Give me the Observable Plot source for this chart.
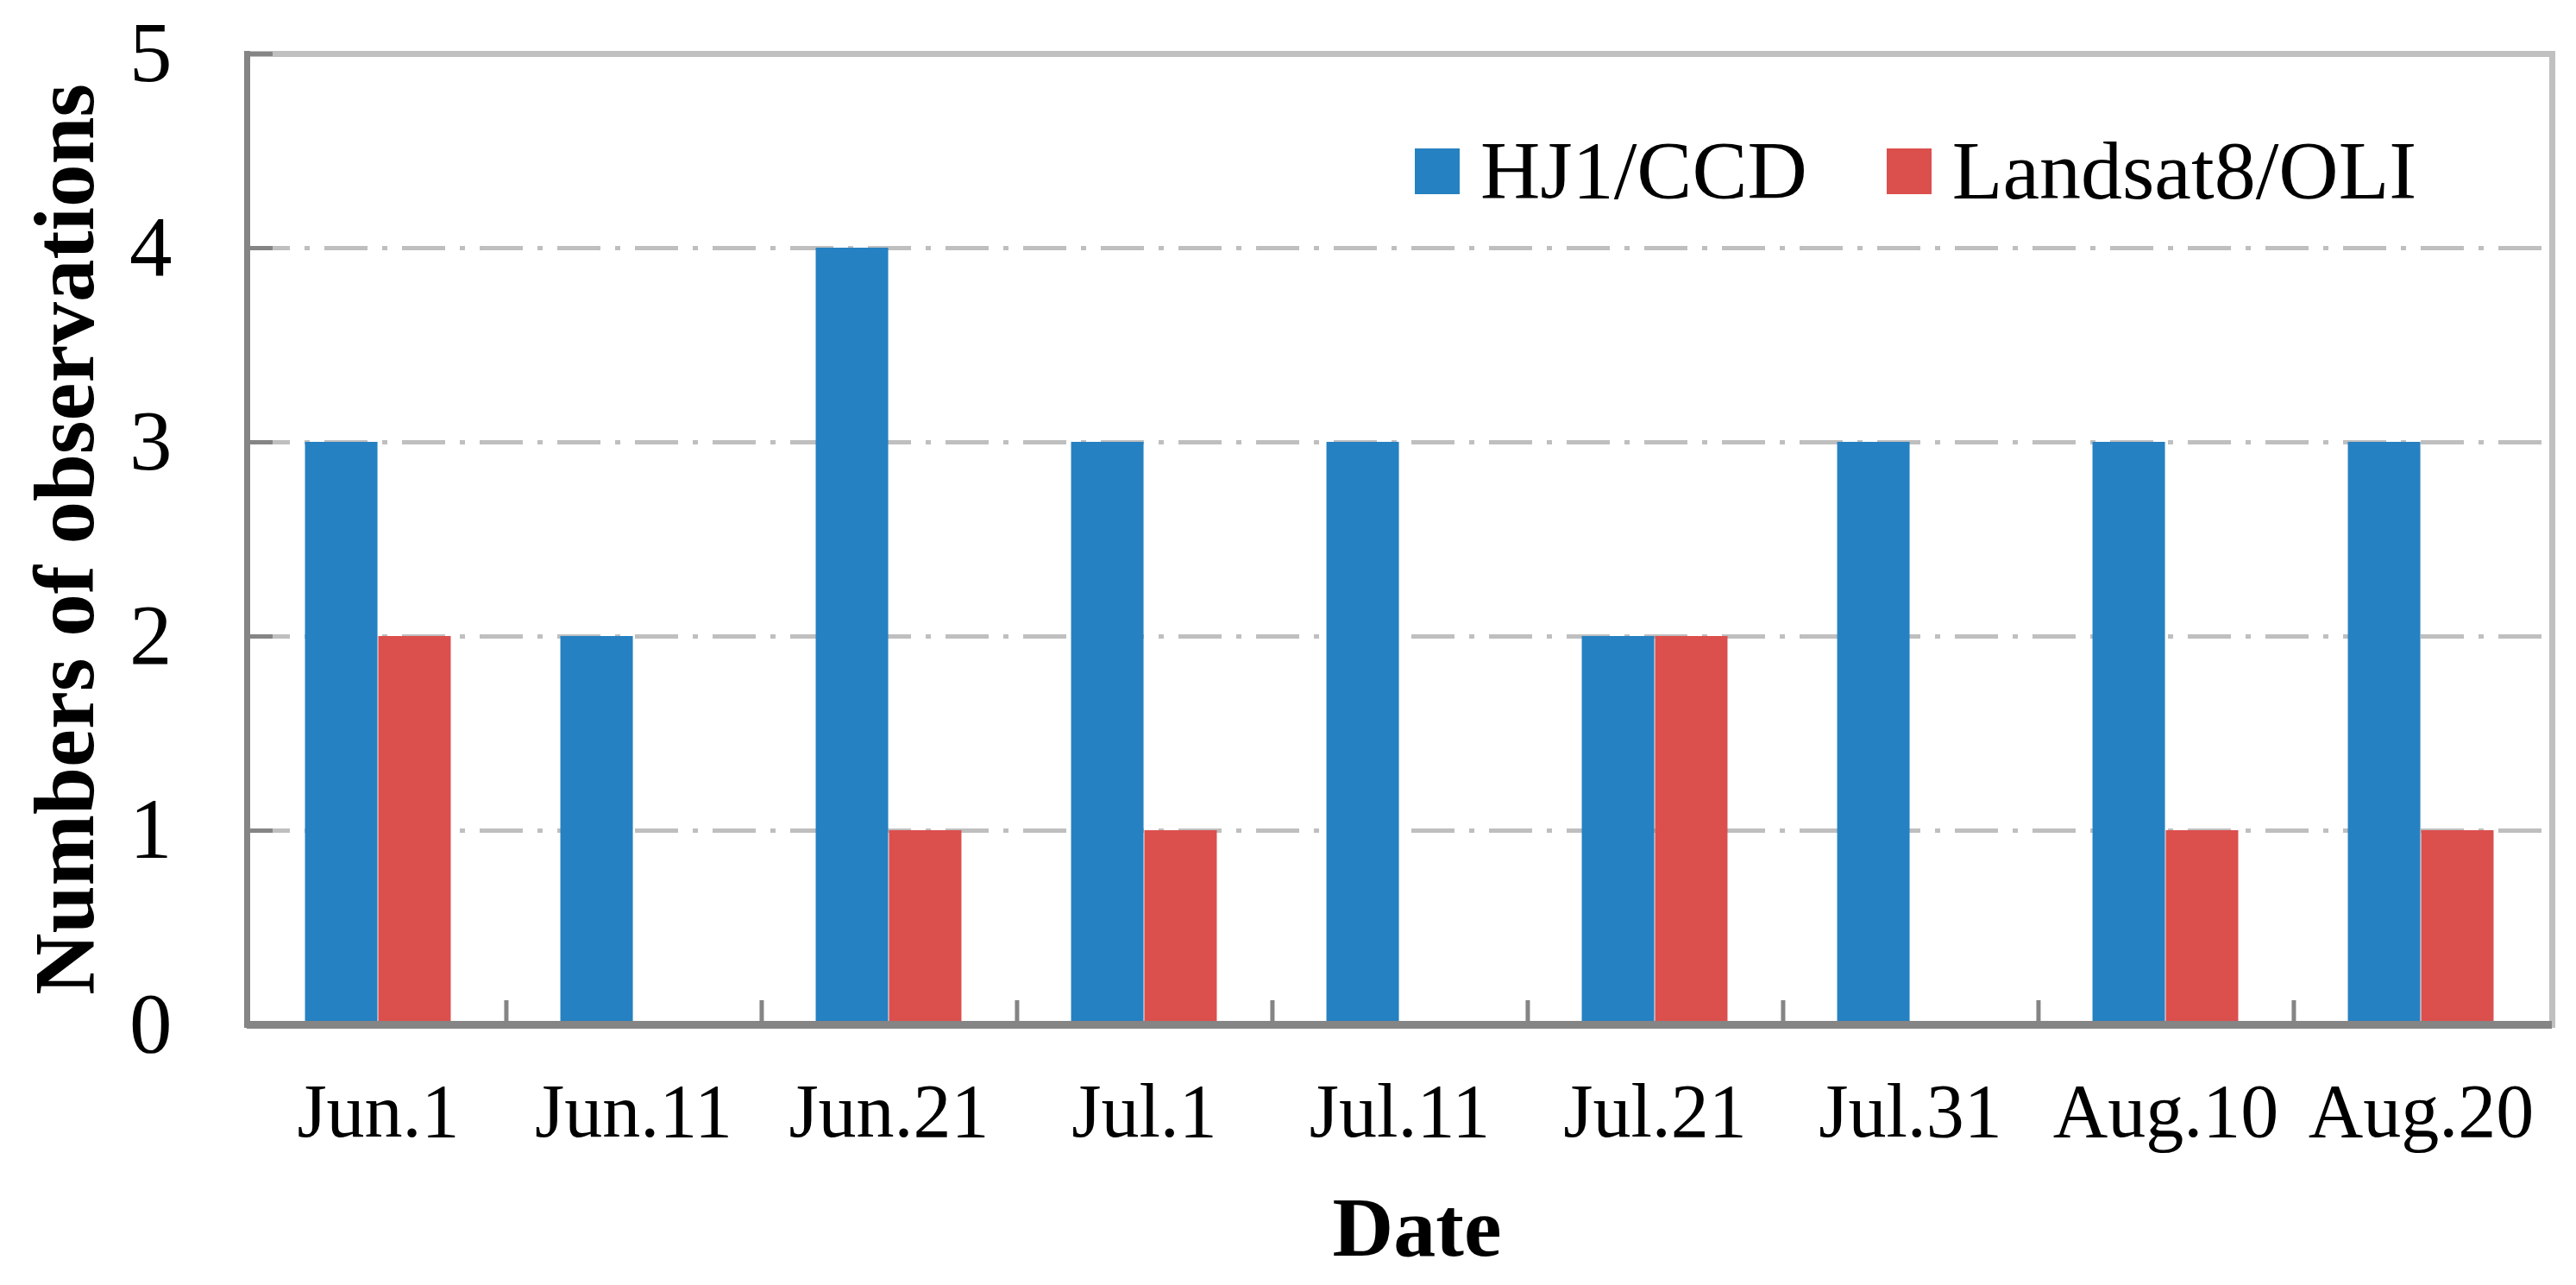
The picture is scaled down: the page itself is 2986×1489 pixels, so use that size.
<!DOCTYPE html>
<html>
<head>
<meta charset="utf-8">
<script src="https://cdn.jsdelivr.net/npm/d3@7"></script>
<script src="https://cdn.jsdelivr.net/npm/@observablehq/plot@0.6"></script>
<style>
  html, body { margin: 0; padding: 0; background: #fff; }
  #wrap { position: relative; width: 2986px; height: 1489px; }
  #legend { position: absolute; left: 1640px; top: 150px; display: flex; align-items: center;
            font-family: 'Liberation Serif', 'Times New Roman', serif; font-size: 96px; line-height: 1; color: #000; }
  .sw { width: 52px; height: 53px; display: inline-block; }
  .lab { margin-left: 24px; }
  .item { display: flex; align-items: center; }
  .item + .item { margin-left: 92px; }
</style>
</head>
<body>
<div id="wrap"></div>
<script>
const dates = ["Jun.1", "Jun.11", "Jun.21", "Jul.1", "Jul.11", "Jul.21", "Jul.31", "Aug.10", "Aug.20"];
const hj1ccd = [3, 2, 4, 3, 3, 2, 3, 3, 3];
const landsat8oli = [2, 0, 1, 1, 0, 2, 0, 1, 1];
const seriesNames = ["HJ1/CCD", "Landsat8/OLI"];
const seriesColors = ["#2581c1", "#db4f4d"];
const yTicks = [0, 1, 2, 3, 4, 5];
const gridValues = [1, 2, 3, 4];

const W = 2986, H = 1489;
const mL = 286, mR = 28, mT = 62, mB = 302;
const bw = (W - mL - mR) / dates.length;

const hjRows = dates.map((d, i) => ({date: d, value: hj1ccd[i]}));
const lsRows = dates.map((d, i) => ({date: d, value: landsat8oli[i]})).filter(d => d.value > 0);

const font = "'Liberation Serif', 'Times New Roman', serif";
const axisGray = "#858585";

const chart = Plot.plot({
  width: W, height: H,
  marginLeft: mL, marginRight: mR, marginTop: mT, marginBottom: mB,
  style: {fontFamily: font, background: "white", color: "black"},
  x: {domain: dates, padding: 0},
  y: {domain: [0, 5]},
  marks: [
    Plot.ruleY(gridValues, {stroke: "#bfbfbf", strokeWidth: 5, strokeDasharray: "50,17,6,17"}),
    Plot.frame({stroke: "#c0c0c0", strokeWidth: 7}),
    Plot.barY(hjRows, {x: "date", y: "value", fill: seriesColors[0], insetLeft: bw * 0.214, insetRight: bw * 0.5}),
    Plot.barY(lsRows, {x: "date", y: "value", fill: seriesColors[1], insetLeft: bw * 0.5, insetRight: bw * 0.214}),
    Plot.frame({anchor: "left", stroke: axisGray, strokeWidth: 7}),
    Plot.ruleY([0], {stroke: axisGray, strokeWidth: 9}),
    Plot.axisY({ticks: yTicks, tickSize: 30, dx: 30, text: null, stroke: axisGray, strokeWidth: 5, label: null}),
    Plot.axisY({ticks: yTicks, tickSize: 0, tickPadding: 87, tickFormat: d => String(d), fontSize: 99, fill: "black", label: null}),
    Plot.axisX({ticks: dates.slice(0, -1), tickSize: 28, dy: -28, dx: bw / 2, text: null, stroke: axisGray, strokeWidth: 5, label: null}),
    Plot.axisX({tickSize: 0, tickPadding: 67, fontSize: 88, fill: "black", label: null}),
    Plot.text(["Numbers of observations"], {frameAnchor: "left", dx: -210, rotate: -90, textAnchor: "middle", lineAnchor: "middle", fontSize: 99, fontWeight: "bold", fill: "black"}),
    Plot.text(["Date"], {frameAnchor: "bottom", dy: 236, dx: 20, textAnchor: "middle", lineAnchor: "middle", fontSize: 98, fontWeight: "bold", fill: "black"})
  ]
});

const wrap = document.getElementById("wrap");
wrap.appendChild(chart);

const legend = document.createElement("div");
legend.id = "legend";
seriesNames.forEach((name, i) => {
  const item = document.createElement("div");
  item.className = "item";
  const sw = document.createElement("span");
  sw.className = "sw";
  sw.style.background = seriesColors[i];
  const lab = document.createElement("span");
  lab.className = "lab";
  lab.textContent = name;
  item.appendChild(sw);
  item.appendChild(lab);
  legend.appendChild(item);
});
wrap.appendChild(legend);
</script>
</body>
</html>
